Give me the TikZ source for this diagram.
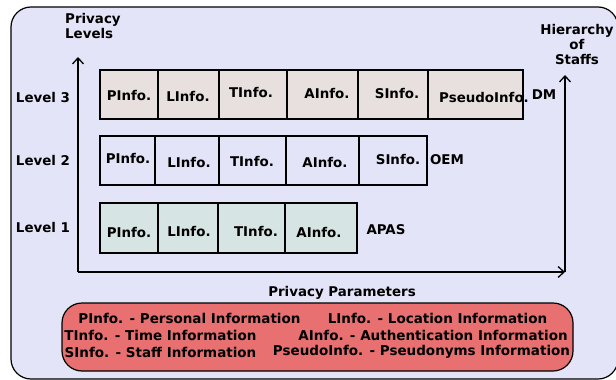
\documentclass[tikz,border=0pt]{standalone}
\usepackage{fontspec}
\setmainfont{DejaVu Sans}
\usetikzlibrary{arrows.meta}
\definecolor{panelbg}{HTML}{E4E4F8}
\definecolor{toprow}{HTML}{E8E0DE}
\definecolor{lowrow}{HTML}{D6E5E3}
\definecolor{legendred}{HTML}{E87070}
\tikzset{
  lbl/.style={font=\fontsize{13.4}{15}\selectfont\bfseries, inner sep=0pt},
  leg/.style={font=\fontsize{13.5}{15}\selectfont\bfseries, inner sep=0pt},
  cellrow/.style={draw=black, line width=1.3pt},
  axis/.style={line width=1.3pt, -{Straight Barb[length=6pt,width=11pt,line width=1.3pt]}}
}
\begin{document}
\begin{tikzpicture}[x=1pt,y=-1pt]
\useasboundingbox (0,0) rectangle (616,380);
% panel
\draw[fill=panelbg, line width=1.2pt, rounded corners=20pt] (11,7) rectangle (618,379);

% axes
\coordinate (origin) at (78,272);
\coordinate (ytip) at (78,57);
\coordinate (corner) at (565,272);
\coordinate (stafftip) at (565,75);
\draw[axis] (origin) -- (ytip);
\draw[axis] (origin) -- (corner);
\draw[axis] (corner) -- (stafftip);

\node[lbl, align=left, anchor=west] (plev) at (65,26) {Privacy\\Levels};
\node[lbl, align=center] (hier) at (577,45) {Hierarchy\\of\\Staffs};

% level 3
\draw[cellrow, fill=toprow] (100,70) rectangle (523,119);
\foreach \x in {158,219,287,358,428} \draw[cellrow] (\x,70) -- (\x,119);
\node[lbl] (p3) at (129,96) {PInfo.};
\node[lbl] (l3) at (188,97) {LInfo.};
\node[lbl] (t3) at (251,93) {TInfo.};
\node[lbl] (a3) at (327,94) {AInfo.};
\node[lbl] (s3) at (397,94) {SInfo.};
\node[lbl] (ps3) at (484,98) {PseudoInfo.};
\node[lbl] (dm) at (544,95) {DM};

% level 2
\draw[cellrow] (100,136) rectangle (427,185);
\foreach \x in {155,219,286,359} \draw[cellrow] (\x,136) -- (\x,185);
\node[lbl] (p2) at (128,159) {PInfo.};
\node[lbl] (l2) at (189,163) {LInfo.};
\node[lbl] (t2) at (252,162) {TInfo.};
\node[lbl] (a2) at (325,163) {AInfo.};
\node[lbl] (s2) at (398,160) {SInfo.};
\node[lbl] (oem) at (447,160) {OEM};

% level 1
\draw[cellrow, fill=lowrow] (100,203) rectangle (357,253);
\foreach \x in {158,218,285} \draw[cellrow] (\x,203) -- (\x,253);
\node[lbl] (p1) at (129,233) {PInfo.};
\node[lbl] (l1) at (189,232) {LInfo.};
\node[lbl] (t1) at (256,232) {TInfo.};
\node[lbl] (a1) at (319,233) {AInfo.};
\node[lbl] (apas) at (386,230) {APAS};

% level labels
\node[lbl] (lv3) at (43,98) {Level 3};
\node[lbl] (lv2) at (43,161) {Level 2};
\node[lbl] (lv1) at (43,228) {Level 1};

% legend
\node[lbl] (ptitle) at (342,293) {Privacy Parameters};
\draw[fill=legendred, line width=1.2pt, rounded corners=20pt] (62,303) rectangle (573,371);
\node[leg] (k1) at (189.5,318) {PInfo. - Personal Information};
\node[leg] (k2) at (437.5,318) {LInfo. - Location Information};
\node[leg] (k3) at (160.5,335) {TInfo. - Time Information};
\node[leg] (k4) at (433,335) {AInfo. - Authentication Information};
\node[leg] (k5) at (160.5,352) {SInfo. - Staff Information};
\node[leg] (k6) at (421.5,352) {PseudoInfo. - Pseudonyms Information};
\end{tikzpicture}
\end{document}
